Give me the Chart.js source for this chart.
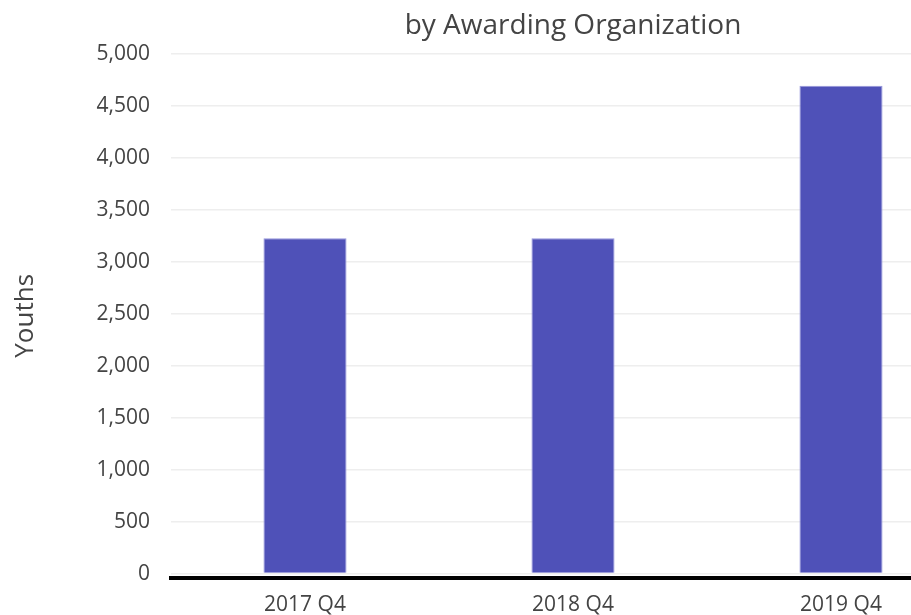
<!DOCTYPE html>
<html>
<head>
<meta charset="utf-8">
<script src="https://cdn.jsdelivr.net/npm/chart.js@4"></script>
<style>
  body { margin: 0; background: #fff; overflow: hidden; }
  #wrap { width: 911px; height: 615px; overflow: hidden; }
</style>
</head>
<body>
<div id="wrap">
  <canvas id="myChart" width="1000" height="615"></canvas>
</div>
<script>
// data
const quarters = ["2017 Q4", "2018 Q4", "2019 Q4"];
const youths = [3225, 3225, 4690];
const yTicks = [0, 500, 1000, 1500, 2000, 2500, 3000, 3500, 4000, 4500, 5000];

const textColor = "#444";
const font = "'Open Sans', sans-serif";

const ctx = document.getElementById('myChart').getContext('2d');

const chart = new Chart(ctx, {
  type: "bar",
  data: {
    labels: quarters,
    datasets: [
      {
        label: "Youths",
        data: youths,
        backgroundColor: "#4f51b8",
        borderColor: "#9596dc",
        borderWidth: 1,
        categoryPercentage: 1,
        barPercentage: 0.31
      }
    ]
  },
  options: {
    responsive: false,
    animation: false,
    layout: { padding: { left: 0, right: 25, top: 0, bottom: 0 } },
    plugins: {
      legend: { display: false },
      tooltip: { enabled: false },
      title: {
        display: true,
        text: "by Awarding Organization",
        fullSize: false,
        color: textColor,
        font: { family: font, size: 28, weight: "normal" },
        padding: { top: 9, bottom: 11 }
      }
    },
    scales: {
      x: {
        grid: { display: false },
        border: { display: true, color: "#000", width: 4 },
        ticks: {
          color: textColor,
          font: { family: font, size: 21 },
          padding: 6,
          maxRotation: 0
        },
        afterFit: (scale) => { scale.height = 37; }
      },
      y: {
        min: -43,
        max: 5000,
        border: { display: false },
        grid: { color: "#eeeeee", lineWidth: 1.5, drawTicks: false },
        ticks: {
          stepSize: 500,
          color: textColor,
          font: { family: font, size: 21 },
          padding: 21,
          callback: (v) => v.toLocaleString("en-US")
        },
        afterBuildTicks: (scale) => {
          scale.ticks = yTicks.map(v => ({ value: v }));
        },
        title: {
          display: true,
          text: "Youths",
          color: textColor,
          font: { family: font, size: 26, weight: "normal" },
          padding: { top: 10, bottom: 0 }
        },
        afterFit: (scale) => { scale.width = 171; }
      }
    }
  }
});
</script>
</body>
</html>
